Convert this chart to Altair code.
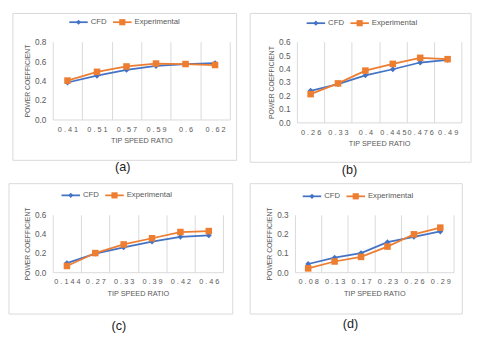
import altair as alt
import pandas as pd

series_names = ["CFD", "Experimental"]
series_colors = ["#4472C4", "#ED7D31"]

a_tsr = ["0.41", "0.51", "0.57", "0.59", "0.6", "0.62"]
a_cfd = [0.38, 0.45, 0.51, 0.55, 0.57, 0.58]
a_exp = [0.40, 0.49, 0.545, 0.575, 0.57, 0.56]

b_tsr = ["0.26", "0.33", "0.4", "0.445", "0.476", "0.49"]
b_cfd = [0.235, 0.285, 0.35, 0.395, 0.445, 0.465]
b_exp = [0.21, 0.29, 0.385, 0.435, 0.48, 0.47]

c_tsr = ["0.144", "0.27", "0.33", "0.39", "0.42", "0.46"]
c_cfd = [0.095, 0.195, 0.26, 0.32, 0.37, 0.385]
c_exp = [0.065, 0.20, 0.29, 0.355, 0.42, 0.43]

d_tsr = ["0.08", "0.13", "0.17", "0.23", "0.26", "0.29"]
d_cfd = [0.043, 0.076, 0.10, 0.157, 0.185, 0.213]
d_exp = [0.02, 0.056, 0.08, 0.134, 0.198, 0.233]

x_title = "TIP SPEED RATIO"
y_title = "POWER COEFFICIENT"

FONT = "Liberation Sans"
GRAY = "#595959"
GRID = "#d9d9d9"
ONE = pd.DataFrame({"k": [0]})


def legend_layers(lx, ly):
    layers = []
    offsets = [0, 45]
    shapes = ["diamond", "square"]
    sizes = [28, 40]
    for name, col, off, shp, sz in zip(series_names, series_colors, offsets, shapes, sizes):
        x0 = lx + off
        layers.append(alt.Chart(ONE).mark_rule(color=col, strokeWidth=1.8).encode(
            x=alt.value(x0), x2=alt.value(x0 + 19), y=alt.value(ly)))
        layers.append(alt.Chart(ONE).mark_point(shape=shp, filled=True, size=sz, opacity=1, color=col).encode(
            x=alt.value(x0 + 9.5), y=alt.value(ly)))
        layers.append(alt.Chart(ONE).mark_text(text=name, align="left", baseline="middle",
                                               fontSize=8, font=FONT, color=GRAY).encode(
            x=alt.value(x0 + 22), y=alt.value(ly)))
    return layers


def panel(tsr, cfd, exp, w, h, ymax, step, box, caption, cap_xy, leg_xy):
    rows = []
    for i, t in enumerate(tsr):
        rows.append({"tsr": t, "series": "CFD", "value": cfd[i]})
        rows.append({"tsr": t, "series": "Experimental", "value": exp[i]})
    df = pd.DataFrame(rows)
    nticks = int(round(ymax / step))
    yvals = [round(step * k, 3) for k in range(nticks + 1)]

    color_scale = alt.Scale(domain=series_names, range=series_colors)
    x_enc = alt.X(
        "tsr:N", sort=tsr, bandPosition=0.5,
        scale=alt.Scale(type="band", paddingInner=0, paddingOuter=0),
        axis=alt.Axis(title=x_title, tickBand="extent", grid=True, gridColor=GRID,
                      domainColor=GRID, ticks=False, labelAngle=0,
                      labelExpr="join(split(datum.label, ''), ' ')",
                      labelPadding=6, titlePadding=4, labelFontSize=7.5,
                      titleFontSize=7.5),
    )
    y_enc = alt.Y(
        "value:Q", scale=alt.Scale(domain=[0, ymax], nice=False, zero=True),
        axis=alt.Axis(title=y_title, values=yvals, grid=False, domain=False, ticks=False,
                      labelPadding=7, titlePadding=4, labelFontSize=8.5,
                      titleFontSize=7),
    )
    base = alt.Chart(df)
    lines = base.mark_line(strokeWidth=1.8).encode(
        x=x_enc, y=y_enc,
        color=alt.Color("series:N", scale=color_scale, legend=None),
    )
    pts_cfd = base.transform_filter(alt.datum.series == "CFD").mark_point(
        shape="diamond", filled=True, size=36, opacity=1, color=series_colors[0]
    ).encode(x=x_enc, y=y_enc)
    pts_exp = base.transform_filter(alt.datum.series == "Experimental").mark_point(
        shape="square", filled=True, size=45, opacity=1, color=series_colors[1]
    ).encode(x=x_enc, y=y_enc)
    frame = alt.Chart(ONE).mark_rect(filled=False, stroke=GRID, strokeWidth=1).encode(
        x=alt.value(box[0]), x2=alt.value(box[1]), y=alt.value(box[2]), y2=alt.value(box[3])
    )
    cap = alt.Chart(ONE).mark_text(text=caption, fontSize=13, font=FONT, color="#222222").encode(
        x=alt.value(cap_xy[0]), y=alt.value(cap_xy[1])
    )
    layers = [frame, lines, pts_cfd, pts_exp] + legend_layers(*leg_xy) + [cap]
    return alt.layer(*layers).properties(width=w, height=h)


pa = panel(a_tsr, a_cfd, a_exp, 182, 80, 0.8, 0.2, (-41, 189, -29, 122), "(a)", (72, 129), (17, -20))
pb = panel(b_tsr, b_cfd, b_exp, 169, 83, 0.6, 0.1, (-48, 179, -29, 124), "(b)", (54, 132), (10, -19))
pc = panel(c_tsr, c_cfd, c_exp, 175, 59, 0.6, 0.2, (-45, 185, -32, 102), "(c)", (68, 114), (9, -20))
pd_ = panel(d_tsr, d_cfd, d_exp, 163, 59, 0.3, 0.1, (-46, 172, -32, 102), "(d)", (57, 112), (8, -19))

chart = alt.vconcat(
    alt.hconcat(pa, pb, spacing=12),
    alt.hconcat(pc, pd_, spacing=16),
    spacing=6,
).properties(
    padding=0
).configure_view(stroke=None).configure_axis(
    labelColor=GRAY, titleColor=GRAY, labelFont=FONT, titleFont=FONT, titleFontWeight="normal"
)

chart.save("out.html", embed_options={"renderer": "svg", "actions": False})
